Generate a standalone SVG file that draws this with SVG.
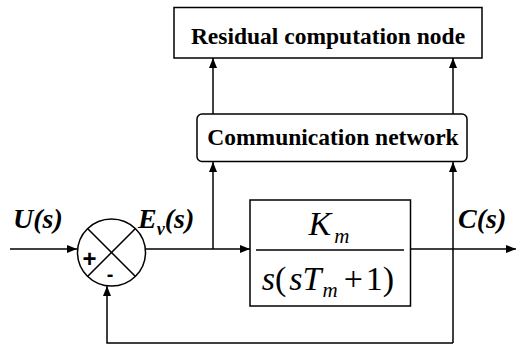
<svg xmlns="http://www.w3.org/2000/svg" width="516" height="346" viewBox="0 0 516 346">
<style>
.ln{fill:none;stroke:#000;stroke-width:1.5}
.box{fill:#fff;stroke:#000;stroke-width:1.5}
.sf{font-family:"Liberation Serif","Times New Roman",Times,"DejaVu Serif",serif}
.bt{font-weight:bold;font-size:23.5px;text-anchor:middle}
.lab{font-weight:bold;font-style:italic;font-size:28px}
.m{font-size:34px;text-anchor:middle}
.i{font-style:italic}
.sg{font-family:"Liberation Sans",Arial,sans-serif;text-anchor:middle}
</style>
<defs>
<marker id="ah" markerWidth="10" markerHeight="10" refX="10" refY="5" orient="auto" markerUnits="userSpaceOnUse">
<path d="M0,1 L10,5 L0,9 Z" fill="#000"/>
</marker>
</defs>
<rect width="516" height="346" fill="#fff"/>
<g id="connectors">
<path class="ln" d="M10,249 H77" marker-end="url(#ah)"/>
<path class="ln" d="M146,249 H250" marker-end="url(#ah)"/>
<path class="ln" d="M410,249 H516" marker-end="url(#ah)"/>
<path class="ln" d="M213,249 V162" marker-end="url(#ah)"/>
<path class="ln" d="M213,114 V58" marker-end="url(#ah)"/>
<path class="ln" d="M453,114 V58" marker-end="url(#ah)"/>
<path class="ln" d="M453,343 V162" marker-end="url(#ah)"/>
<path class="ln" d="M453,343 H107 V286" marker-end="url(#ah)"/>
</g>
<g id="residual">
<rect class="box" x="174" y="7.5" width="308" height="50.5"/>
<text class="sf bt" x="328" y="44">Residual computation node</text>
</g>
<g id="network">
<rect class="box" x="197" y="114" width="270" height="47.5" rx="5"/>
<text class="sf bt" x="333" y="145">Communication network</text>
</g>
<g id="sum">
<ellipse class="box" cx="111.5" cy="252.5" rx="34" ry="33.5"/>
<path class="ln" d="M87.5,228.5 L135.5,276.5 M135.5,228.5 L87.5,276.5"/>
<text class="sg" x="89.5" y="267" font-size="24" font-weight="bold">+</text>
<text class="sg" x="110" y="281" font-size="20" font-weight="bold">-</text>
</g>
<g id="plant">
<rect class="box" x="250" y="200" width="160.5" height="106"/>
<path class="ln" d="M256,250 H404"/>
<text class="sf m" x="329" y="235"><tspan class="i">K</tspan><tspan class="i" dx="3" dy="8" font-size="21">m</tspan></text>
<text class="sf m" x="328" y="290"><tspan class="i">s</tspan><tspan>(</tspan><tspan class="i" dx="3">sT</tspan><tspan class="i" dx="1" dy="7" font-size="21">m</tspan><tspan dx="6" dy="-7">+</tspan><tspan dx="3">1)</tspan></text>
</g>
<g id="labels">
<text class="sf lab" x="13" y="228">U(s)</text>
<text class="sf lab" x="138" y="228">E<tspan font-size="18" dy="7">v</tspan><tspan dy="-7">(s)</tspan></text>
<text class="sf lab" x="458" y="228">C(s)</text>
</g>
</svg>
